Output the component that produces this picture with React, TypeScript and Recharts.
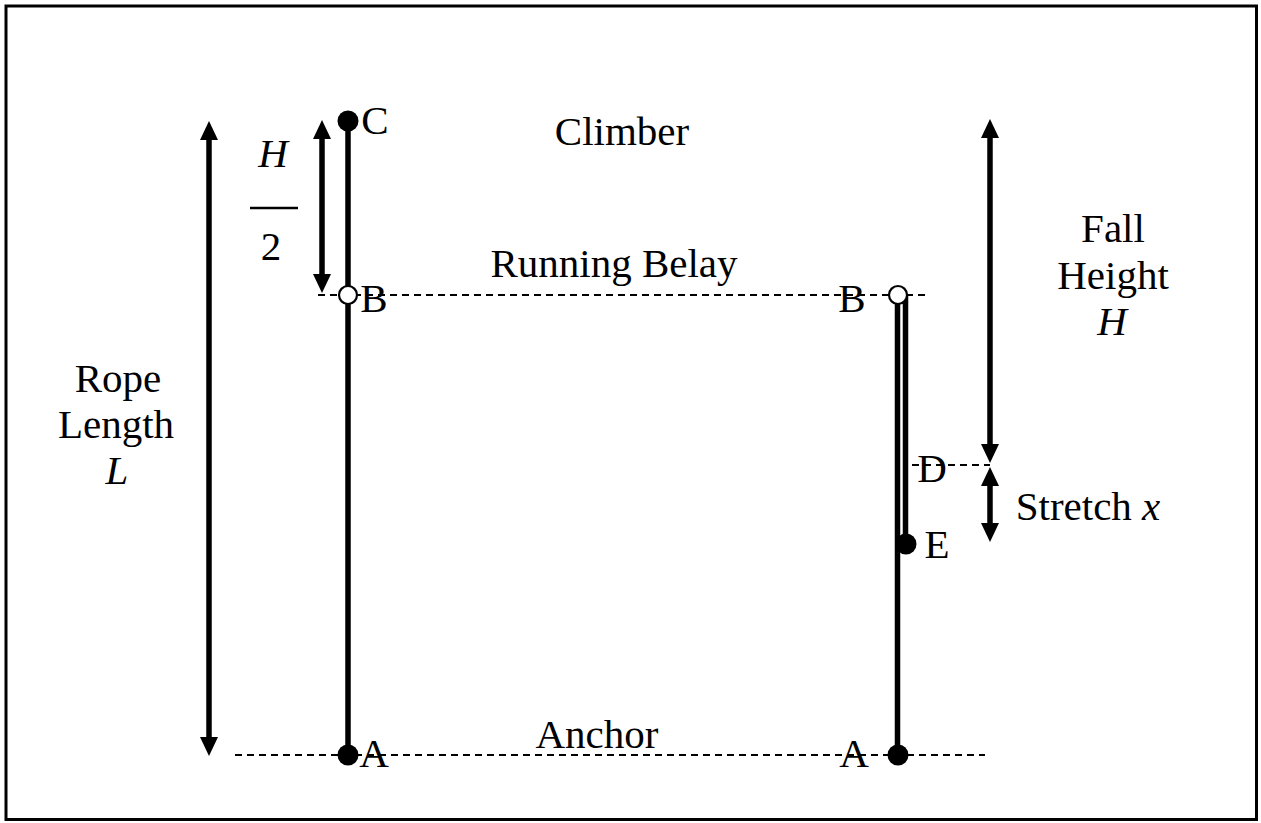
import { ComposedChart, XAxis, YAxis, Line, Scatter, ReferenceLine, ReferenceArea } from "recharts"

// x: horizontal position, y: height above the anchor (same units as the drawing)
const ropeBefore = [
  { x: 348, y: 0 },
  { x: 348, y: 634 },
]
const ropeAfterLower = [
  { x: 897.5, y: 0 },
  { x: 897.5, y: 460 },
]
const ropeAfterUpper = [
  { x: 905.5, y: 211 },
  { x: 905.5, y: 460 },
]

// climber, anchors and stretched position
const solidKnots = [
  { x: 348, y: 634 },
  { x: 348, y: 0 },
  { x: 898, y: 0 },
  { x: 906, y: 211 },
]
// running belay carabiners
const belayKnots = [
  { x: 348, y: 460 },
  { x: 898, y: 460 },
]

const guideLines = [
  [{ x: 318, y: 460 }, { x: 930, y: 460 }],
  [{ x: 235, y: 0 }, { x: 985, y: 0 }],
  [{ x: 912, y: 290 }, { x: 990, y: 290 }],
]

const arrows = [
  [{ x: 209, y: 634 }, { x: 209, y: -1 }],
  [{ x: 322, y: 635 }, { x: 322, y: 462 }],
  [{ x: 990, y: 636 }, { x: 990, y: 292 }],
  [{ x: 990, y: 288 }, { x: 990, y: 213 }],
]

const fractionBar = [{ x: 250, y: 547 }, { x: 298, y: 547 }]

const labels = [
  { x: 622, y: 610, text: "Climber", variable: "" },
  { x: 614, y: 478, text: "Running Belay", variable: "" },
  { x: 597, y: 7, text: "Anchor", variable: "" },
  { x: 118, y: 363, text: "Rope", variable: "" },
  { x: 116, y: 317, text: "Length", variable: "" },
  { x: 117, y: 271, text: "", variable: "L" },
  { x: 1113, y: 513, text: "Fall", variable: "" },
  { x: 1113, y: 466, text: "Height", variable: "" },
  { x: 1112, y: 420, text: "", variable: "H" },
  { x: 1088, y: 235, text: "Stretch ", variable: "x" },
  { x: 273, y: 588, text: "", variable: "H" },
  { x: 271, y: 495, text: "2", variable: "" },
  { x: 375, y: 621, text: "C", variable: "" },
  { x: 374, y: 443, text: "B", variable: "" },
  { x: 374, y: -12, text: "A", variable: "" },
  { x: 852, y: 443, text: "B", variable: "" },
  { x: 854, y: -12, text: "A", variable: "" },
  { x: 932, y: 273, text: "D", variable: "" },
  { x: 937, y: 197, text: "E", variable: "" },
]

const font = "'Liberation Serif', 'Times New Roman', serif"

function ArrowShape(props: any) {
  const { x1, y1, x2, y2 } = props
  const len = Math.hypot(x2 - x1, y2 - y1) || 1
  const ux = (x2 - x1) / len
  const uy = (y2 - y1) / len
  const head = 19
  const half = 9
  const px = -uy
  const py = ux
  const headAt = (tx: number, ty: number, dir: number) => {
    const bx = tx - ux * head * dir
    const by = ty - uy * head * dir
    return `${tx},${ty} ${bx + px * half},${by + py * half} ${bx - px * half},${by - py * half}`
  }
  return (
    <g>
      <line
        x1={x1 + ux * (head - 1)}
        y1={y1 + uy * (head - 1)}
        x2={x2 - ux * (head - 1)}
        y2={y2 - uy * (head - 1)}
        stroke="#000"
        strokeWidth={5.5}
      />
      <polygon points={headAt(x1, y1, -1)} fill="#000" />
      <polygon points={headAt(x2, y2, 1)} fill="#000" />
    </g>
  )
}

function SolidKnot(props: any) {
  return <circle cx={props.cx} cy={props.cy} r={10.5} fill="#000" />
}

function BelayKnot(props: any) {
  return <circle cx={props.cx} cy={props.cy} r={9} fill="#fff" stroke="#000" strokeWidth={2.2} />
}

function LabelText(props: any) {
  const { cx, cy, payload } = props
  return (
    <text x={cx} y={cy} textAnchor="middle" fontFamily={font} fontSize={41} fill="#000">
      {payload.text ? <tspan>{payload.text}</tspan> : null}
      {payload.variable ? <tspan fontStyle="italic">{payload.variable}</tspan> : null}
    </text>
  )
}

export default function App() {
  return (
    <div style={{ width: 1261, height: 823, background: "#fff" }}>
      <style>{"body{margin:0}"}</style>
      <ComposedChart width={1261} height={823} margin={{ top: 0, right: 0, bottom: 0, left: 0 }}>
        <XAxis type="number" dataKey="x" domain={[0, 1261]} allowDataOverflow hide />
        <YAxis type="number" dataKey="y" domain={[-68, 755]} allowDataOverflow hide />
        <ReferenceArea
          x1={6}
          x2={1256.5}
          y1={-64.5}
          y2={749}
          fill="none"
          stroke="#000"
          strokeWidth={3}
          ifOverflow="visible"
        />
        {guideLines.map((seg, i) => (
          <ReferenceLine
            key={`g${i}`}
            segment={seg}
            stroke="#000"
            strokeWidth={1.8}
            strokeDasharray="7 5"
            ifOverflow="visible"
          />
        ))}
        <ReferenceLine segment={fractionBar} stroke="#000" strokeWidth={2.5} ifOverflow="visible" />
        {arrows.map((seg, i) => (
          <ReferenceLine key={`a${i}`} segment={seg} shape={ArrowShape} ifOverflow="visible" />
        ))}
        <Line data={ropeBefore} dataKey="y" stroke="#000" strokeWidth={5.5} dot={false} isAnimationActive={false} />
        <Line data={ropeAfterLower} dataKey="y" stroke="#000" strokeWidth={5.5} dot={false} isAnimationActive={false} />
        <Line data={ropeAfterUpper} dataKey="y" stroke="#000" strokeWidth={5.5} dot={false} isAnimationActive={false} />
        <Scatter data={solidKnots} dataKey="y" shape={SolidKnot} isAnimationActive={false} />
        <Scatter data={belayKnots} dataKey="y" shape={BelayKnot} isAnimationActive={false} />
        <Scatter data={labels} dataKey="y" shape={LabelText} isAnimationActive={false} />
      </ComposedChart>
    </div>
  )
}
